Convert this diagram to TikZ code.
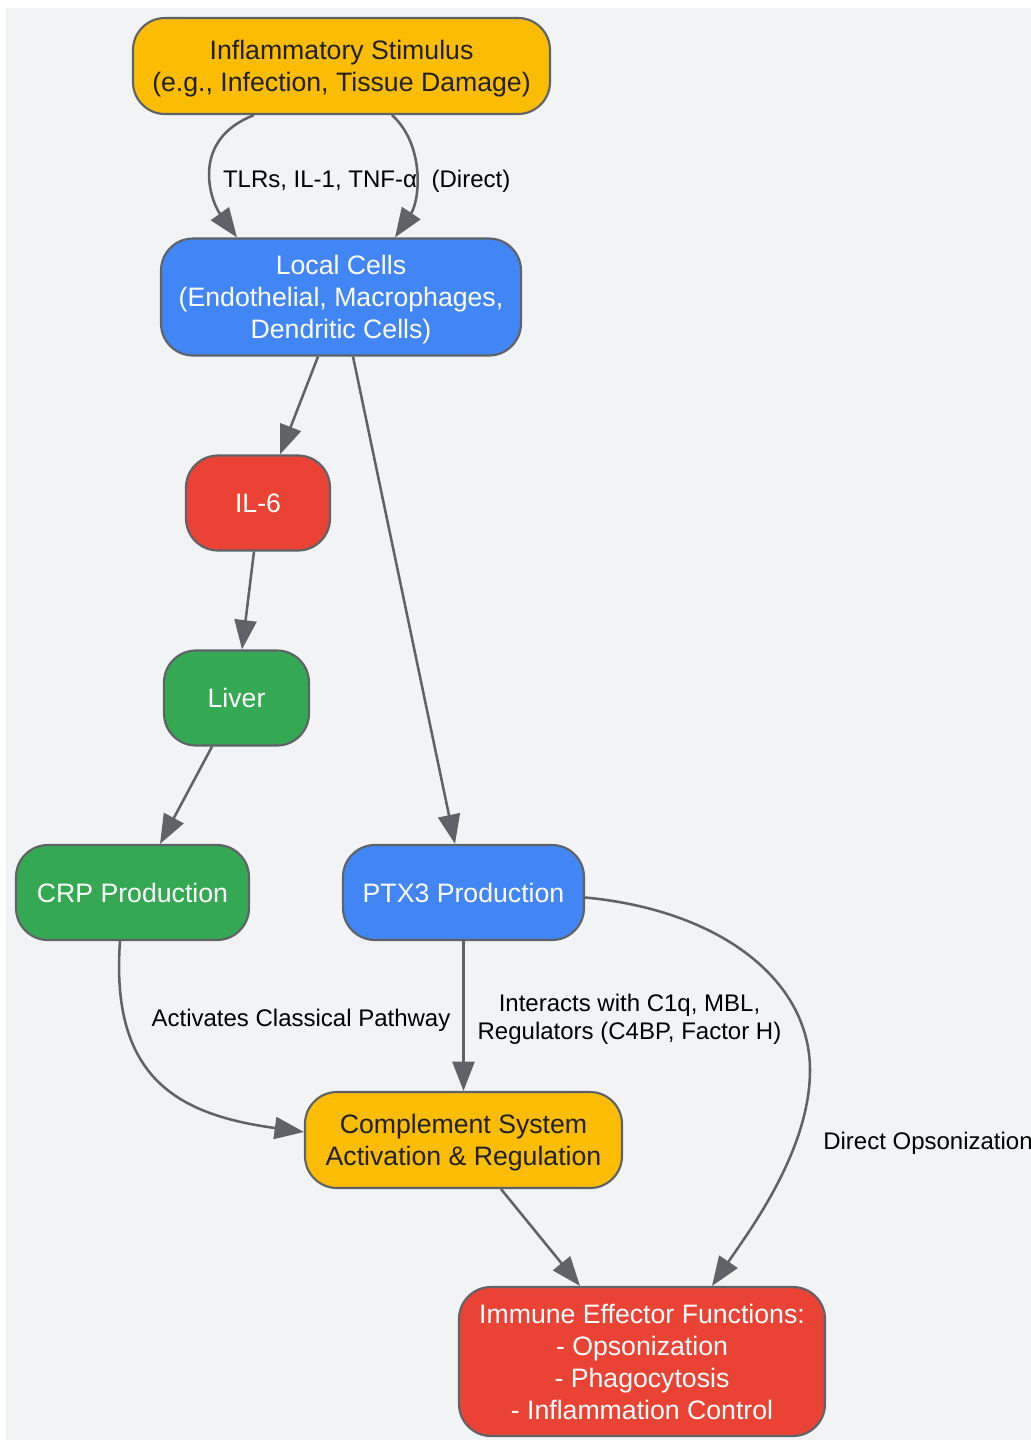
\documentclass[tikz,border=0pt]{standalone}
\usepackage{fontspec}
\setmainfont{Liberation Sans}
\usetikzlibrary{arrows.meta,calc}
\definecolor{bgc}{HTML}{F1F3F5}
\definecolor{edgec}{HTML}{5F6368}
\definecolor{yel}{HTML}{FBBC04}
\definecolor{blu}{HTML}{4285F4}
\definecolor{rd}{HTML}{EA4335}
\definecolor{grn}{HTML}{34A853}
\definecolor{darktxt}{HTML}{202124}
\tikzset{
  box/.style={draw=edgec, line width=1.6pt, rounded corners=24pt, align=center, inner sep=0pt,
    font=\fontsize{20}{24}\selectfont},
  ybox/.style={box, fill=yel, text=darktxt},
  bbox/.style={box, fill=blu, text=white},
  rbox/.style={box, fill=rd, text=white},
  gbox/.style={box, fill=grn, text=white},
  edge/.style={draw=edgec, line width=1.9pt, -{Triangle[length=22pt,width=16.5pt]}},
  lab/.style={font=\fontsize{18}{21}\selectfont, text=black, align=center, inner sep=0pt}
}
\begin{document}
\begin{tikzpicture}[x=0.75pt,y=-0.75pt]
\useasboundingbox (0,0) rectangle (1031,1440);
\fill[bgc] (6,8) rectangle (1031,1440);

\node[ybox, minimum width=417*0.75pt, minimum height=96*0.75pt] (stim) at (341.5,66) {Inflammatory Stimulus\\\smash{(e.g., Infection, Tissue Damage)}};
\node[bbox, minimum width=360*0.75pt, minimum height=117*0.75pt] (local) at (341,297) {Local Cells\\(Endothelial, Macrophages,\\\smash{Dendritic Cells)}};
\node[rbox, minimum width=144*0.75pt, minimum height=95*0.75pt] (il6) at (258,503) {IL-6};
\node[gbox, minimum width=145*0.75pt, minimum height=95*0.75pt] (liver) at (236.5,698) {Liver};
\node[gbox, minimum width=233*0.75pt, minimum height=95*0.75pt] (crp) at (132.5,892.5) {CRP Production};
\node[bbox, minimum width=241*0.75pt, minimum height=95*0.75pt] (ptx) at (463.5,892.5) {PTX3 Production};
\node[ybox, minimum width=317*0.75pt, minimum height=96*0.75pt] (comp) at (463.5,1140) {Complement System\\\smash{Activation \& Regulation}};
\node[rbox, minimum width=366*0.75pt, minimum height=149*0.75pt] (imm) at (642,1361.5) {Immune Effector Functions:\\- Opsonization\\- Phagocytosis\\- Inflammation Control};

% edges
\draw[edge] ($(stim.south)+(-87.5,0)$) .. controls (190,140) and (210,200) .. ($(local.north)+(-104,0)$);
\draw[edge] ($(stim.south)+(50.5,0)$) .. controls (425,145) and (420,200) .. ($(local.north)+(54,0)$);
\draw[edge] ($(local.south)+(-23,0)$) -- ($(il6.north)+(22,0)$);
\draw[edge] ($(local.south)+(12,0)$) -- ($(ptx.north)+(-8.5,0)$);
\draw[edge] ($(il6.south)+(-4,0)$) -- ($(liver.north)+(5.5,0)$);
\draw[edge] ($(liver.south)+(-24.5,0)$) -- ($(crp.north)+(27.5,0)$);
\draw[edge] ($(crp.south)+(-12.5,0)$) .. controls (110,1080) and (180,1115) .. ($(comp.west)+(0,-8)$);
\draw[edge] (ptx.south) -- (comp.north);
\draw[edge] ($(ptx.east)+(0,5)$) .. controls (720,910) and (810,980) .. (810,1070) .. controls (810,1150) and (750,1230) .. ($(imm.north)+(70,0)$);
\draw[edge] ($(comp.south)+(37.5,0)$) -- ($(imm.north)+(-62,0)$);

% labels
\node[lab] (l1) at (320,181) {TLRs, IL-1, TNF-α};
\node[lab] (l2) at (471,181) {(Direct)};
\node[lab] (l3) at (301,1020) {Activates Classical Pathway};
\node[lab] (l4) at (629.5,1019) {Interacts with C1q, MBL,\\Regulators (C4BP, Factor H)};
\node[lab, anchor=west] (l5) at (823,1143) {Direct Opsonization};
\end{tikzpicture}
\end{document}
